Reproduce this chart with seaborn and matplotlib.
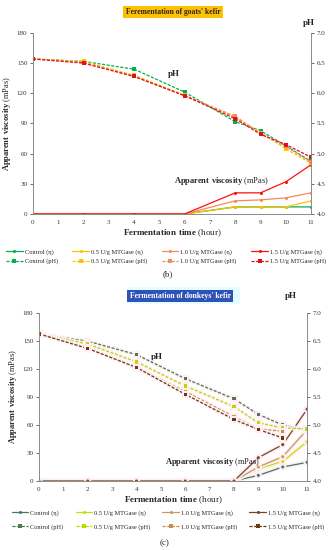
import numpy as np
import pandas as pd
import matplotlib
matplotlib.use("Agg")
import matplotlib.pyplot as plt
import matplotlib.patheffects as pe
from matplotlib.patches import Rectangle
from matplotlib.lines import Line2D
import seaborn as sns

hours = [0, 2, 4, 6, 8, 9, 10, 11]
groups = ["Control", "0.5 U/g MTGase", "1.0 U/g MTGase", "1.5 U/g MTGase"]

# (b) goats' kefir - apparent viscosity (mPas)
goat_eta_ctrl = [0, 0, 0, 0, 7, 7, 7, 7]
goat_eta_05 = [0, 0, 0, 0, 7, 7, 7, 13]
goat_eta_10 = [0, 0, 0, 0, 13, 14, 16, 21]
goat_eta_15 = [0, 0, 0, 0, 21, 21, 32, 49]
# (b) goats' kefir - pH
goat_ph_ctrl = [6.57, 6.53, 6.40, 6.02, 5.53, 5.38, 5.13, 4.87]
goat_ph_05 = [6.57, 6.53, 6.30, 5.97, 5.60, 5.35, 5.08, 4.84]
goat_ph_10 = [6.57, 6.51, 6.28, 5.96, 5.62, 5.33, 5.12, 4.86]
goat_ph_15 = [6.57, 6.50, 6.28, 5.96, 5.58, 5.32, 5.15, 4.94]

# (c) donkeys' kefir - apparent viscosity (mPas)
donk_eta_ctrl = [0, 0, 0, 0, 0, 6, 15, 20]
donk_eta_05 = [0, 0, 0, 0, 0, 13, 21, 42]
donk_eta_10 = [0, 0, 0, 0, 0, 15, 26, 55]
donk_eta_15 = [0, 0, 0, 0, 0, 25, 39, 77]
# (c) donkeys' kefir - pH
donk_ph_ctrl = [6.63, 6.50, 6.26, 5.83, 5.47, 5.19, 5.00, 4.91]
donk_ph_05 = [6.63, 6.45, 6.13, 5.70, 5.33, 5.04, 4.95, 4.93]
donk_ph_10 = [6.63, 6.38, 6.03, 5.60, 5.15, 4.93, 4.89, np.nan]
donk_ph_15 = [6.63, 6.37, 6.03, 5.55, 5.10, 4.92, 4.77, np.nan]

goat_eta_colors = ["#00B050", "#FFC000", "#F58A5A", "#FF1010"]
goat_ph_colors = ["#00B050", "#FFC000", "#F58A5A", "#E01020"]
donk_eta_colors = ["#3E7C68", "#C8E000", "#C49A5C", "#7A4520"]
donk_ph_colors = ["#4E7A50", "#BCD800", "#D08A48", "#6A3A16"]

DASH = (0, (2.5, 1.2))

sns.set_theme(style="white")
plt.rcParams["font.family"] = ["Liberation Serif", "DejaVu Serif"]
plt.rcParams["mathtext.fontset"] = "custom"
plt.rcParams["mathtext.rm"] = "Liberation Serif"
plt.rcParams["mathtext.bf"] = "Liberation Serif:bold"

fig = plt.figure(figsize=(3.36, 5.5), dpi=100)


def panel(rect, eta_list, ph_list, eta_cols, ph_cols, glow=False):
    ax = fig.add_axes(rect)
    ax2 = ax.twinx()
    fx = [pe.withStroke(linewidth=3, foreground="#FFEEF4")] if glow else None
    for vals, c in zip(eta_list, eta_cols):
        d = pd.DataFrame({"hour": hours, "v": vals})
        sns.lineplot(data=d, x="hour", y="v", ax=ax, color=c, marker="o",
                     markersize=2.2, markeredgewidth=0, linewidth=0.9,
                     legend=False, path_effects=fx)
    for vals, c in zip(ph_list, ph_cols):
        d = pd.DataFrame({"hour": hours, "v": vals}).dropna()
        sns.lineplot(data=d, x="hour", y="v", ax=ax2, color=c, marker="s",
                     markersize=2.4, markeredgewidth=0, linewidth=0.9,
                     linestyle=DASH, legend=False, path_effects=fx)
    ax.set_xlim(0, 11)
    ax.set_ylim(0, 180)
    ax2.set_ylim(4.0, 7.0)
    ax.set_xticks(range(12))
    ax.set_yticks(range(0, 181, 30))
    ax2.set_yticks(np.arange(4.0, 7.01, 0.5))
    ax2.set_yticklabels([f"{t:.1f}" for t in np.arange(4.0, 7.01, 0.5)])
    for a in (ax, ax2):
        a.tick_params(direction="out", length=2, width=0.5, labelsize=5,
                      colors="#333333", pad=2)
        for s in a.spines.values():
            s.set_color("#8C8C8C")
            s.set_linewidth(0.6)
        a.spines["top"].set_visible(False)
        a.set_xlabel("")
        a.set_ylabel("")
    ax.tick_params(axis="x", bottom=False)
    ax.set_xlabel(r"$\bf{Fermentation\ time}$ (hour)", fontsize=6.5, labelpad=2)
    ax.set_ylabel(r"$\bf{Apparent\ viscosity}$ (mPas)", fontsize=6, labelpad=3)
    return ax, ax2


def add_legend(eta_cols, ph_cols, ypos, x0, spacing, colspace):
    handles = []
    names = []
    for g, ce, cp in zip(groups, eta_cols, ph_cols):
        handles.append(Line2D([], [], color=ce, lw=0.9, marker="o",
                              markersize=2.2, markeredgewidth=0))
        handles.append(Line2D([], [], color=cp, lw=0.9, marker="s",
                              markersize=2.4, markeredgewidth=0, linestyle=DASH))
        names += [f"{g} (η)", f"{g} (pH)"]
    fig.legend(handles, names, loc="upper left", bbox_to_anchor=(x0, ypos),
               ncol=4, frameon=False, fontsize=4.6, handlelength=2.6,
               handletextpad=0.3, columnspacing=colspace, labelspacing=spacing,
               borderaxespad=0, borderpad=0, numpoints=1)


# panel (b)
axb, axb2 = panel([0.098, 0.611, 0.828, 0.329],
                  [goat_eta_ctrl, goat_eta_05, goat_eta_10, goat_eta_15],
                  [goat_ph_ctrl, goat_ph_05, goat_ph_10, goat_ph_15],
                  goat_eta_colors, goat_ph_colors)
axb.text(5.55, 139, "pH", fontsize=6.5, fontweight="bold", ha="center", va="center")
axb.text(7.45, 33, r"$\bf{Apparent\ viscosity}$ (mPas)", fontsize=6,
         ha="center", va="center")
fig.text(0.515, 1 - 12 / 550, "Ferementation of goats' kefir", fontsize=5.5,
         fontweight="bold", ha="center", va="center",
         bbox=dict(facecolor="#FFC000", edgecolor="none", pad=1.6))
fig.text(0.92, 1 - 23 / 550, "pH", fontsize=6.5, fontweight="bold",
         ha="center", va="center")
add_legend(goat_eta_colors, goat_ph_colors, 1 - 249 / 550, 0.018, 0.55, 2.3)
fig.text(0.5, 1 - 274 / 550, "(b)", fontsize=6.5, ha="center", va="center")

# panel (c)
axc, axc2 = panel([0.116, 0.1255, 0.798, 0.305],
                  [donk_eta_ctrl, donk_eta_05, donk_eta_10, donk_eta_15],
                  [donk_ph_ctrl, donk_ph_05, donk_ph_10, donk_ph_15],
                  donk_eta_colors, donk_ph_colors, glow=True)
axc.text(4.85, 133, "pH", fontsize=6.5, fontweight="bold", ha="center", va="center")
axc.text(7.1, 20.7, r"$\bf{Apparent\ viscosity}$ (mPas)", fontsize=6,
         ha="center", va="center")
fig.patches.append(Rectangle((127 / 336, 1 - 304 / 550), 113 / 336, 17 / 550,
                             transform=fig.transFigure, facecolor="#E4FDFF",
                             edgecolor="none", zorder=0))
fig.text(0.536, 1 - 296 / 550, "Fermentation of donkeys' kefir", fontsize=5.5,
         fontweight="bold", color="white", ha="center", va="center",
         bbox=dict(facecolor="#2F52B8", edgecolor="none", pad=1.6))
fig.text(0.866, 1 - 296 / 550, "pH", fontsize=6.5, fontweight="bold",
         ha="center", va="center")
add_legend(donk_eta_colors, donk_ph_colors, 1 - 510 / 550, 0.035, 1.25, 1.9)
fig.text(0.49, 1 - 543 / 550, "(c)", fontsize=6.5, ha="center", va="center")

fig.savefig("out.png", dpi=100)
